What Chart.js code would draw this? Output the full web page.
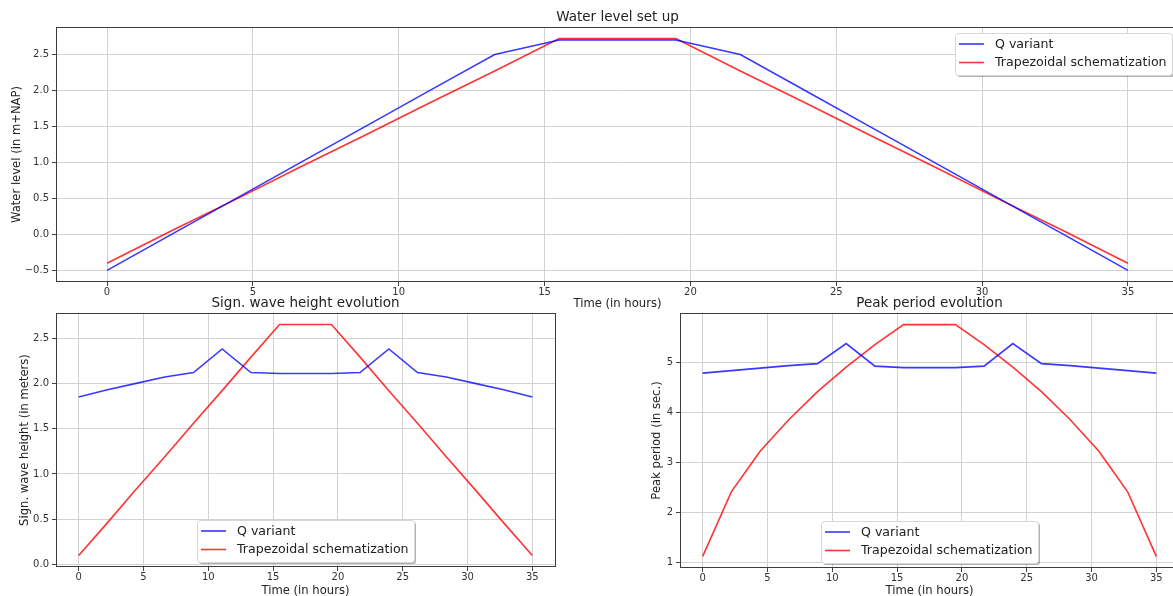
<!DOCTYPE html>
<html>
<head>
<meta charset="utf-8">
<script src="https://cdn.jsdelivr.net/npm/chart.js@4.4.0/dist/chart.umd.min.js"></script>
<style>
html, body { margin: 0; padding: 0; background: #fff; overflow: hidden; width: 1173px; height: 596px; }
canvas { position: absolute; display: block; }
</style>
</head>
<body>
<canvas id="levelChart" width="1185" height="312" style="left:0;top:0"></canvas>
<canvas id="hsChart" width="560" height="312" style="left:0;top:288px"></canvas>
<canvas id="tpChart" width="545" height="312" style="left:640px;top:288px"></canvas>
<script>
// Время (часы) - общее для всех графиков
const hours = [0, 2.21, 4.43, 6.64, 8.86, 11.07, 13.29, 15.5, 19.5, 21.71, 23.93, 26.14, 28.36, 30.57, 32.79, 35];

// Уровень воды
const levelQ = [-0.5, 0.0, 0.5, 1.0, 1.5, 2.0, 2.5, 2.7, 2.7, 2.5, 2.0, 1.5, 1.0, 0.5, 0.0, -0.5];
const levelTrap = [-0.4, 0.05, 0.49, 0.94, 1.38, 1.83, 2.27, 2.72, 2.72, 2.27, 1.83, 1.38, 0.94, 0.49, 0.05, -0.4];

// Высота волны
const hsQ = [1.85, 1.93, 2.0, 2.07, 2.12, 2.38, 2.12, 2.11, 2.11, 2.12, 2.38, 2.12, 2.07, 2.0, 1.93, 1.85];
const hsTrap = [0.1, 0.46, 0.83, 1.19, 1.56, 1.92, 2.29, 2.65, 2.65, 2.29, 1.92, 1.56, 1.19, 0.83, 0.46, 0.1];

// Пиковый период
const tpQ = [4.78, 4.83, 4.88, 4.93, 4.97, 5.37, 4.92, 4.89, 4.89, 4.92, 5.37, 4.97, 4.93, 4.88, 4.83, 4.78];
const tpTrap = [1.12, 2.41, 3.22, 3.85, 4.41, 4.9, 5.35, 5.75, 5.75, 5.35, 4.9, 4.41, 3.85, 3.22, 2.41, 1.12];

// Подписи осей
const xTicks = [0, 5, 10, 15, 20, 25, 30, 35];
const levelTicks = [-0.5, 0.0, 0.5, 1.0, 1.5, 2.0, 2.5];
const hsTicks = [0.0, 0.5, 1.0, 1.5, 2.0, 2.5];
const tpTicks = [1, 2, 3, 4, 5];

const seriesNames = ['Q variant', 'Trapezoidal schematization'];
const FONT = '"DejaVu Sans", sans-serif';

// Рамка, заголовок и легенда в стиле matplotlib
const mplDecor = {
    id: 'mplDecor',
    afterDatasetsDraw(chart, args, opts) {
        const ctx = chart.ctx;
        const a = chart.chartArea;
        ctx.save();

        // рамка
        ctx.strokeStyle = '#3d3d3d';
        ctx.lineWidth = 1;
        ctx.strokeRect(Math.round(a.left) + 0.5, Math.round(a.top) + 0.5,
            Math.round(a.right - a.left), Math.round(a.bottom - a.top) - 1);

        // заголовок
        ctx.fillStyle = '#222';
        ctx.font = '13.5px ' + FONT;
        ctx.textAlign = 'center';
        ctx.textBaseline = 'middle';
        ctx.fillText(opts.title, (a.left + a.right) / 2, a.top - 10);

        // легенда
        ctx.font = '12.6px ' + FONT;
        ctx.textAlign = 'left';
        const items = chart.data.datasets;
        const tw = Math.max(...items.map(d => ctx.measureText(d.label).width));
        const w = Math.round(45 + tw), h = 42;
        let x, y;
        if (opts.loc === 'upper right') {
            x = Math.round(a.right - 7 - w);
            y = Math.round(a.top + 6);
        } else {
            x = Math.round((a.left + a.right) / 2 - w / 2);
            y = Math.round(a.bottom - 5 - h);
        }
        ctx.fillStyle = 'rgba(0,0,0,0.3)';
        ctx.beginPath();
        ctx.roundRect(x + 2, y + 2, w, h, 3);
        ctx.fill();
        ctx.fillStyle = '#fff';
        ctx.strokeStyle = '#d6d6d6';
        ctx.beginPath();
        ctx.roundRect(x + 0.5, y + 0.5, w, h, 3);
        ctx.fill();
        ctx.stroke();
        items.forEach(function(d, i) {
            const cy = y + 11 + i * 18.5;
            ctx.strokeStyle = d.borderColor;
            ctx.lineWidth = 1.6;
            ctx.beginPath();
            ctx.moveTo(x + 4, cy);
            ctx.lineTo(x + 29, cy);
            ctx.stroke();
            ctx.fillStyle = '#222';
            ctx.fillText(d.label, x + 40, cy + 0.5);
        });
        ctx.restore();
    }
};

function rangeOf(arrs) {
    const all = [].concat(...arrs);
    const lo = Math.min(...all), hi = Math.max(...all);
    const m = (hi - lo) * 0.05;
    return [lo - m, hi + m];
}

function makeChart(id, cfg) {
    const yr = rangeOf([cfg.q, cfg.trap]);
    return new Chart(document.getElementById(id), {
        type: 'line',
        data: {
            datasets: [
                { label: seriesNames[0], data: hours.map((t, i) => ({ x: t, y: cfg.q[i] })),
                  borderColor: 'rgba(0,0,255,0.78)', borderWidth: 1.6, pointRadius: 0, tension: 0 },
                { label: seriesNames[1], data: hours.map((t, i) => ({ x: t, y: cfg.trap[i] })),
                  borderColor: 'rgba(255,0,0,0.8)', borderWidth: 1.6, pointRadius: 0, tension: 0 }
            ]
        },
        options: {
            responsive: false,
            animation: false,
            layout: { padding: { top: cfg.padTop, right: cfg.padRight, bottom: 0, left: 0 } },
            plugins: {
                legend: { display: false },
                tooltip: { enabled: false },
                mplDecor: { title: cfg.title, loc: cfg.loc }
            },
            scales: {
                x: {
                    type: 'linear',
                    min: -1.75,
                    max: 36.75,
                    afterBuildTicks: s => { s.ticks = xTicks.map(v => ({ value: v })); },
                    afterFit: s => { s.height = cfg.xHeight; },
                    ticks: {
                        autoSkip: false, maxRotation: 0, padding: 0,
                        color: '#333', font: { family: FONT, size: 10 },
                        callback: v => String(v)
                    },
                    grid: { color: '#d2d2d2', tickColor: '#444', tickLength: 4 },
                    border: { display: false },
                    title: {
                        display: true, text: 'Time (in hours)', color: '#222',
                        font: { family: FONT, size: 11.6 }, padding: { top: 0, bottom: cfg.xTitlePad }
                    }
                },
                y: {
                    type: 'linear',
                    min: yr[0],
                    max: yr[1],
                    afterBuildTicks: s => { s.ticks = cfg.yTicks.map(v => ({ value: v })); },
                    afterFit: s => { s.width = cfg.yWidth; },
                    ticks: {
                        padding: 3, color: '#333', font: { family: FONT, size: 10 },
                        callback: v => v.toFixed(cfg.dec).replace('-', '\u2212')
                    },
                    grid: { color: '#d2d2d2', tickColor: '#444', tickLength: 4 },
                    border: { display: false },
                    title: {
                        display: true, text: cfg.yTitle, color: '#222',
                        font: { family: FONT, size: 11.6 }, padding: { top: cfg.yTitlePad, bottom: 0 }
                    }
                }
            }
        },
        plugins: [mplDecor]
    });
}

makeChart('levelChart', {
    q: levelQ, trap: levelTrap, yTicks: levelTicks, dec: 1,
    title: 'Water level set up', yTitle: 'Water level (in m+NAP)', loc: 'upper right',
    padTop: 27, padRight: 6, xHeight: 30, xTitlePad: 1, yWidth: 56, yTitlePad: 10
});

makeChart('hsChart', {
    q: hsQ, trap: hsTrap, yTicks: hsTicks, dec: 1,
    title: 'Sign. wave height evolution', yTitle: 'Sign. wave height (in meters)', loc: 'lower center',
    padTop: 25, padRight: 5, xHeight: 33, xTitlePad: 2, yWidth: 56, yTitlePad: 18
});

makeChart('tpChart', {
    q: tpQ, trap: tpTrap, yTicks: tpTicks, dec: 0,
    title: 'Peak period evolution', yTitle: 'Peak period (in sec.)', loc: 'lower center',
    padTop: 25, padRight: 6, xHeight: 32, xTitlePad: 2, yWidth: 40, yTitlePad: 10
});
</script>
</body>
</html>
